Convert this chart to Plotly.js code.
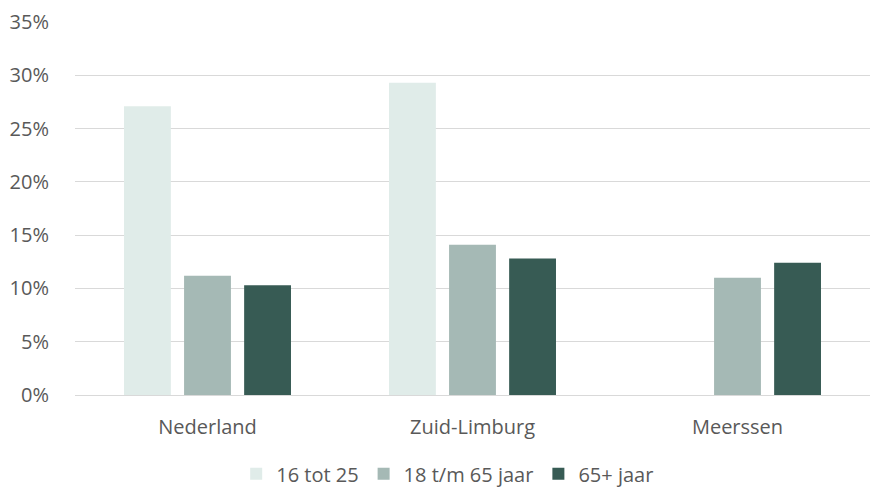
<!DOCTYPE html>
<html>
<head>
<meta charset="utf-8">
<script src="https://cdn.plot.ly/plotly-3.0.1.min.js"></script>
<style>
  html, body { margin: 0; padding: 0; background: #fff; }
  #plot { width: 871px; height: 487px; }
</style>
</head>
<body>
<div id="plot"></div>
<script>
// Categories and series (percentages)
let regions = ["Nederland", "Zuid-Limburg", "Meerssen"]
let jong = [27.1, 29.3, null]
let volwassen = [11.2, 14.1, 11.0]
let ouderen = [10.3, 12.8, 12.4]

let seriesNames = ["16 tot 25", "18 t/m 65 jaar", "65+ jaar"]
let seriesColors = ["#e0ece9", "#a5b9b5", "#375b54"]

let data = [jong, volwassen, ouderen].map(function (vals, i) {
  return {
    x: regions,
    y: vals,
    name: seriesNames[i],
    type: "bar",
    marker: { color: seriesColors[i] },
    hoverinfo: "x+y+name"
  }
})

let layout = {
  width: 871,
  height: 487,
  margin: { l: 75, r: 1, t: 22, b: 92 },
  paper_bgcolor: "#fff",
  plot_bgcolor: "#fff",
  font: { family: "'Open Sans', sans-serif", size: 20, color: "#595959" },
  barmode: "group",
  bargap: 0.32,
  bargroupgap: 0.22,
  showlegend: true,
  legend: {
    orientation: "h",
    xref: "container", yref: "container",
    x: 0.514, xanchor: "center",
    y: 0.027, yanchor: "middle",
    font: { size: 20, color: "#595959" },
    itemclick: false
  },
  xaxis: {
    automargin: false,
    showgrid: false,
    showline: true,
    linecolor: "#d9d9d9",
    linewidth: 1,
    ticks: "",
    ticklabelstandoff: 14,
    tickfont: { size: 20, color: "#595959" }
  },
  yaxis: {
    automargin: false,
    range: [0, 35],
    dtick: 5,
    ticksuffix: "%",
    showgrid: true,
    gridcolor: "#d9d9d9",
    gridwidth: 1,
    zeroline: false,
    showline: false,
    ticks: "",
    ticklabelstandoff: 25,
    tickfont: { size: 20, color: "#595959" }
  }
}

Plotly.newPlot("plot", data, layout, { displayModeBar: false, staticPlot: true })
</script>
</body>
</html>
